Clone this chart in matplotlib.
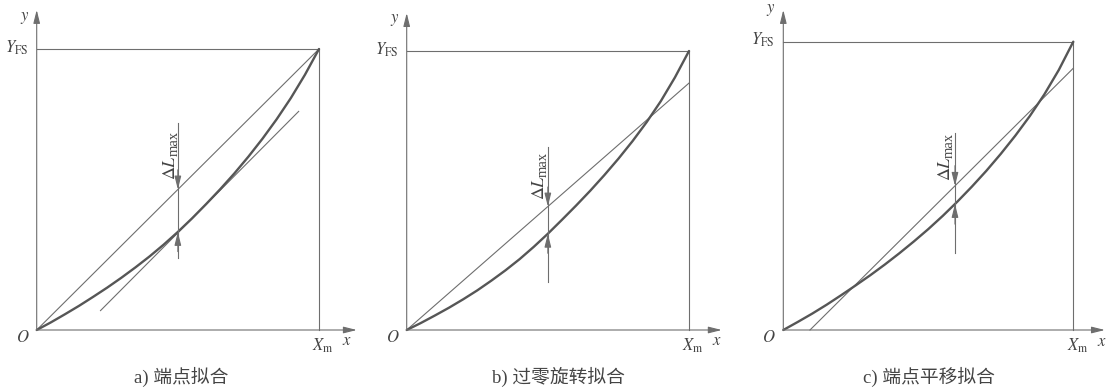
import numpy as np
import matplotlib
matplotlib.use('Agg')
import matplotlib.pyplot as plt

plt.rcParams['font.family'] = ['Liberation Serif', 'Noto Sans CJK SC']
plt.rcParams['mathtext.fontset'] = 'stix'

# sensor characteristic (x, y normalised to Xm, YFS)
curve_x = [0.0, 0.05, 0.1, 0.15, 0.2, 0.25, 0.3, 0.35, 0.4, 0.45, 0.5,
           0.55, 0.6, 0.65, 0.7, 0.75, 0.8, 0.85, 0.9, 0.95, 1.0]
curve_a_y = [0.0, 0.027, 0.056, 0.086, 0.118, 0.151, 0.186, 0.223, 0.262, 0.304, 0.349,
             0.397, 0.448, 0.501, 0.557, 0.617, 0.681, 0.750, 0.825, 0.908, 1.0]
curve_b_y = [0.0, 0.025, 0.052, 0.080, 0.110, 0.142, 0.177, 0.214, 0.254, 0.298, 0.345,
             0.395, 0.446, 0.499, 0.555, 0.614, 0.677, 0.745, 0.820, 0.905, 1.0]
curve_c_y = [0.0, 0.028, 0.057, 0.088, 0.121, 0.155, 0.190, 0.227, 0.266, 0.307, 0.350,
             0.396, 0.445, 0.497, 0.552, 0.611, 0.674, 0.742, 0.817, 0.902, 1.0]

# fitted straight lines
fit_a_x = [0.0, 1.0]
fit_a_y = [0.0, 1.0]
tan_a_x = [0.226, 0.928]
tan_a_y = [0.069, 0.778]
fit_b_x = [0.0, 1.0]
fit_b_y = [0.0, 0.885]
fit_c_x = [0.092, 1.0]
fit_c_y = [0.0, 0.908]

captions = ['a) 端点拟合', 'b) 过零旋转拟合', 'c) 端点平移拟合']

W, H = 1114, 387
thin = '#6e6e6e'
thick = '#565656'
tcol = '#444444'

# panel layout in pixels: origin x, origin y, Xm x, YFS y
frames = [(36.7, 330, 319, 49), (406.7, 330, 689, 51), (783.3, 330, 1073.3, 41.7)]
ax_tips = [(1.134, 1.139), (1.116, 1.136), (1.109, 1.11)]
# arrow x, stem bottom, stem top
dl_pos = [(0.50, 0.256, 0.737), (0.50, 0.172, 0.656), (0.592, 0.267, 0.683)]
# label pieces: (x, y) of "ΔL" and of "max"
dl_lab = [((0.474, 0.580), (0.488, 0.663)),
          ((0.469, 0.512), (0.483, 0.594)),
          ((0.559, 0.560), (0.573, 0.641))]
cap_x = [181, 558, 929]

curves = [curve_a_y, curve_b_y, curve_c_y]
fits = [[(fit_a_x, fit_a_y), (tan_a_x, tan_a_y)], [(fit_b_x, fit_b_y)], [(fit_c_x, fit_c_y)]]
dl_ref = [(fit_a_x, fit_a_y), (fit_b_x, fit_b_y), (fit_c_x, fit_c_y)]

fig = plt.figure(figsize=(W / 100, H / 100), dpi=100)


def arrow(ax, x0, y0, x1, y1, lw=0.8):
    ax.annotate('', xy=(x1, y1), xytext=(x0, y0), annotation_clip=False,
                arrowprops=dict(arrowstyle='-|>,head_length=0.8,head_width=0.2',
                                mutation_scale=10, color=thin, lw=lw,
                                shrinkA=0, shrinkB=0))


for i in range(3):
    ox, oy, xm, yfs = frames[i]
    ax = fig.add_axes([ox / W, 1 - oy / H, (xm - ox) / W, (oy - yfs) / H])
    ax.set_xlim(0, 1)
    ax.set_ylim(0, 1)
    ax.axis('off')

    # axes with arrows and the full-scale box
    xt, yt = ax_tips[i]
    arrow(ax, 0, 0, xt, 0)
    arrow(ax, 0, 0, 0, yt)
    ax.plot([0, 1], [1, 1], color=thin, lw=0.8, clip_on=False)
    ax.plot([1, 1], [0, 1], color=thin, lw=0.8, clip_on=False)

    # fitted lines and curve
    for fx, fy in fits[i]:
        ax.plot(fx, fy, color=thin, lw=0.8, clip_on=False)
    ax.plot(curve_x, curves[i], color=thick, lw=1.7, clip_on=False,
            solid_capstyle='round')

    # max deviation marker
    xa, lo, hi = dl_pos[i]
    y_line = np.interp(xa, *dl_ref[i])
    y_curve = np.interp(xa, curve_x, curves[i])
    ax.plot([xa, xa], [lo, hi], color=thin, lw=0.8, clip_on=False)
    arrow(ax, xa, y_line + 0.07, xa, y_line)
    arrow(ax, xa, y_curve - 0.07, xa, y_curve)
    (dx, dy), (mx, my) = dl_lab[i]
    ax.text(dx, dy, r'$\Delta L$', rotation=90, ha='center', va='center',
            fontsize=13, color=tcol)
    ax.text(mx, my, 'max', rotation=90, ha='center', va='center',
            fontsize=10.5, color=tcol)

    # axis labels
    ax.text(-0.043, 1.11, r'$y$', ha='center', va='center', fontsize=12, color=tcol)
    ax.text(-0.03, 1.005, r'$Y_{\rm FS}$', ha='right', va='center', fontsize=12, color=tcol)
    ax.text(-0.05, -0.028, r'$O$', ha='center', va='center', fontsize=12, color=tcol)
    ax.text(1.014, -0.055, r'$X_{\rm m}$', ha='center', va='center', fontsize=12, color=tcol)
    ax.text(1.10, -0.04, r'$x$', ha='center', va='center', fontsize=12, color=tcol)

    fig.text(cap_x[i] / W, 1 - 377 / H, captions[i], ha='center', va='center',
             fontsize=13.5, color=tcol)

fig.savefig('out.png', dpi=100, facecolor='white')
